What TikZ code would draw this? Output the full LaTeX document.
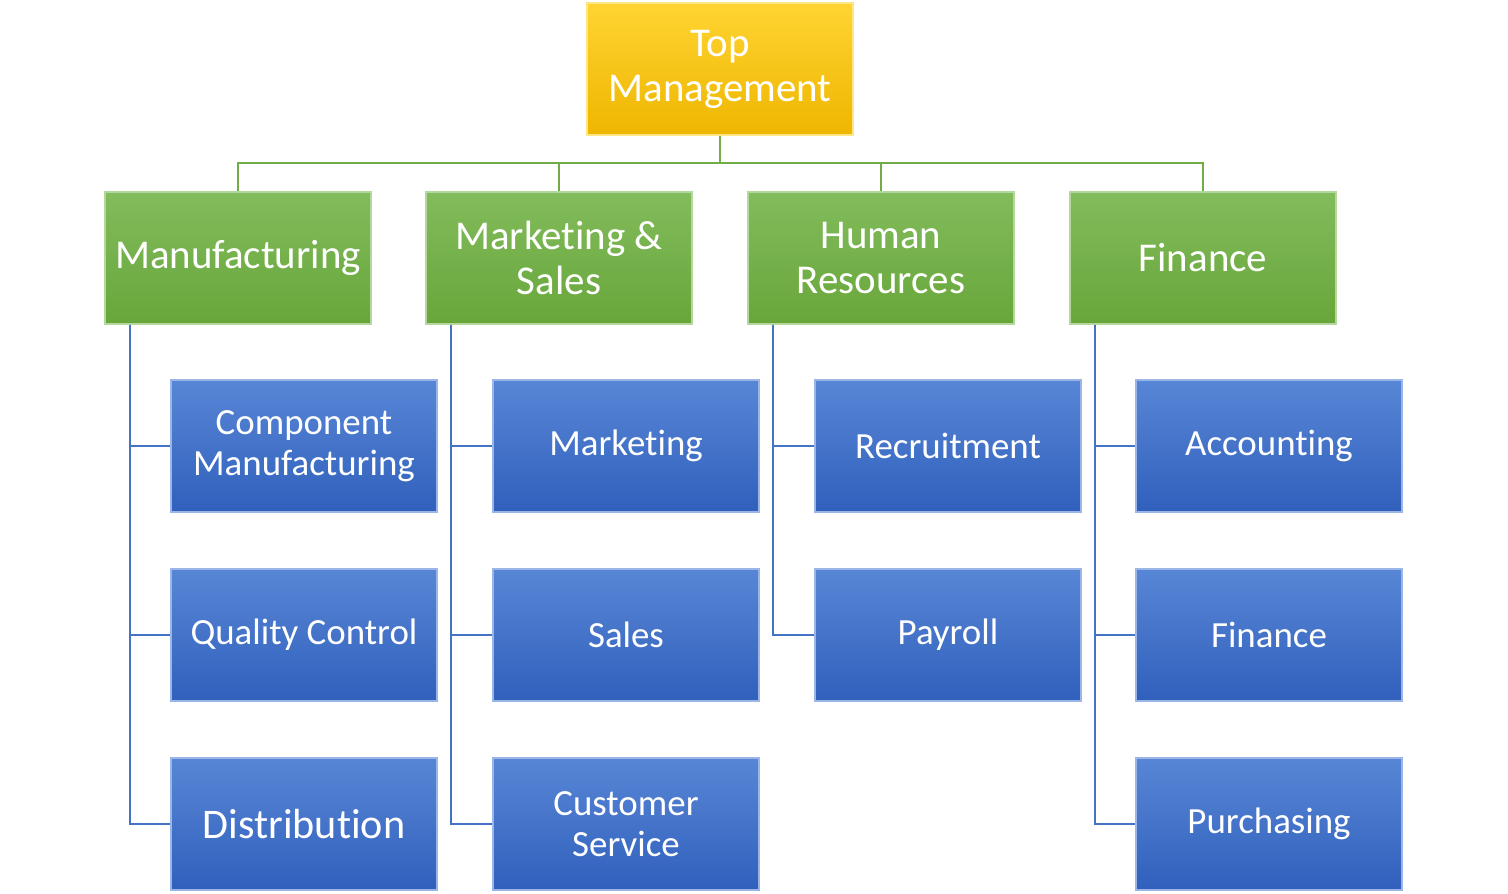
\documentclass[tikz,border=0pt]{standalone}
\usepackage{fontspec}
\setmainfont{Carlito}[Ligatures={NoCommon}]
\usetikzlibrary{positioning, calc}
\definecolor{topY}{RGB}{255,212,50}
\definecolor{botY}{RGB}{238,182,0}
\definecolor{topG}{RGB}{130,188,92}
\definecolor{botG}{RGB}{104,166,58}
\definecolor{topB}{RGB}{88,134,214}
\definecolor{botB}{RGB}{48,96,188}
\definecolor{lineG}{RGB}{112,173,71}
\definecolor{lineB}{RGB}{68,114,196}
\tikzset{
  box/.style={rectangle, minimum width=5.32cm, minimum height=2.64cm,
    inner sep=2pt, align=center, text=white, line width=0.8pt},
  boxY/.style={box, top color=topY, bottom color=botY, draw=topY!60!white,
    font=\fontsize{23.3}{25.6}\selectfont},
  boxG/.style={box, top color=topG, bottom color=botG, draw=topG!60!white,
    font=\fontsize{23.3}{25.6}\selectfont},
  boxB/.style={box, top color=topB, bottom color=botB, draw=topB!60!white,
    font=\fontsize{21}{23.3}\selectfont},
  lnG/.style={draw=lineG, line width=1.1pt},
  lnB/.style={draw=lineB, line width=1.1pt},
}
\begin{document}
\begin{tikzpicture}[x=0.02cm, y=-0.02cm]
  \useasboundingbox (0,0) rectangle (1508,893);

  % ---- top ----
  \node[boxY] (top) at (720,69) {Top\\Management};

  % ---- departments ----
  \node[boxG] (mfg) at (238,258)  {Manufacturing};
  \node[boxG] (mkt) at (559,258)  {Marketing \&\\Sales};
  \node[boxG] (hr)  at (881,258)  {Human\\Resources};
  \node[boxG] (fin) at (1203,258) {Finance};

  % ---- manufacturing units ----
  \node[boxB] (comp) at (304,446) {Component\\Manufacturing};
  \node[boxB] (qc)   at (304,635) {Quality Control};
  \node[boxB, font=\fontsize{24}{26}\selectfont] (dist) at (304,824) {Distribution};

  % ---- marketing units ----
  \node[boxB] (mktg) at (626,446) {Marketing};
  \node[boxB] (sal)  at (626,635) {Sales};
  \node[boxB] (cs)   at (626,824) {Customer\\Service};

  % ---- HR units ----
  \node[boxB] (rec) at (948,446) {Recruitment};
  \node[boxB] (pay) at (948,635) {Payroll};

  % ---- finance units ----
  \node[boxB] (acc) at (1269,446) {Accounting};
  \node[boxB] (fn2) at (1269,635) {Finance};
  \node[boxB] (pur) at (1269,824) {Purchasing};

  % ---- top to departments ----
  \coordinate (bus) at (720,163);
  \draw[lnG] (top.south) -- (bus);
  \foreach \d in {mfg,mkt,hr,fin}
    \draw[lnG] (bus) -| (\d.north);

  % ---- departments to units ----
  \foreach \d in {mfg,mkt,hr,fin}
    \coordinate (\d-t) at ([xshift=0.52cm]\d.south west);
  \foreach \u in {comp,qc,dist}  \draw[lnB] (mfg-t) |- (\u.west);
  \foreach \u in {mktg,sal,cs}   \draw[lnB] (mkt-t) |- (\u.west);
  \foreach \u in {rec,pay}       \draw[lnB] (hr-t)  |- (\u.west);
  \foreach \u in {acc,fn2,pur}   \draw[lnB] (fin-t) |- (\u.west);
\end{tikzpicture}
\end{document}
